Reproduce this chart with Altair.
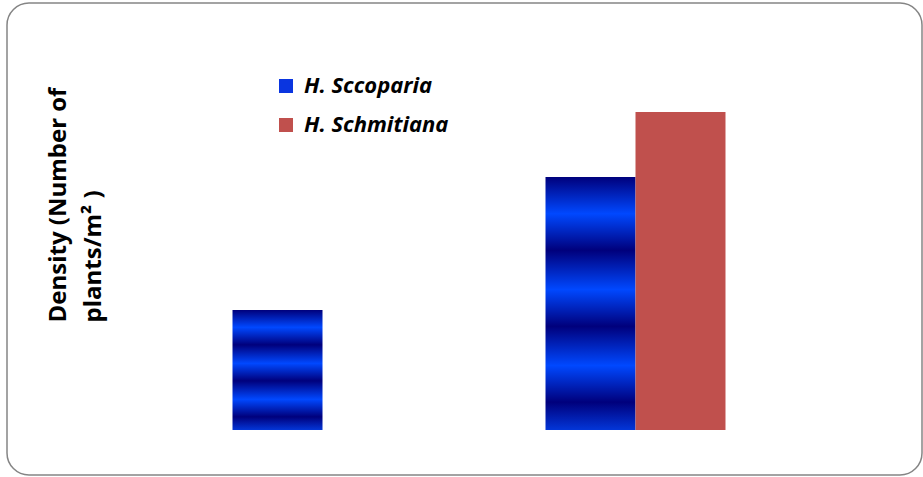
import altair as alt
import pandas as pd

# Plant density per site for the two Halocnemum species
sites = ["Site 1", "Site 2"]
species = ["H. Sccoparia", "H. Schmitiana"]
sccoparia = [1.20, 2.53]
schmitiana = [0.0, 3.18]

rows = []
for i, s in enumerate(sites):
    rows.append({"site": s, "species": species[0], "density": sccoparia[i]})
    rows.append({"site": s, "species": species[1], "density": schmitiana[i]})
df = pd.DataFrame(rows)

# Horizontal navy/bright-blue banding used for H. Sccoparia bars
NAVY = "#00007c"
BRIGHT = "#0048ff"
band_stops = [
    (0.0, NAVY), (0.145, BRIGHT), (0.29, NAVY), (0.445, BRIGHT),
    (0.59, NAVY), (0.745, BRIGHT), (0.89, NAVY), (1.0, "#0336d8"),
]
stripes = alt.LinearGradient(
    gradient="linear",
    stops=[alt.GradientStop(offset=o, color=c) for o, c in band_stops],
    x1=0, x2=0, y1=0, y2=1,
)

FONT = "Open Sans"

base = alt.Chart(df).encode(
    x=alt.X("site:N", scale=alt.Scale(range=[159, 785], paddingInner=0, paddingOuter=0), axis=None),
    xOffset=alt.XOffset("species:N", scale=alt.Scale(domain=species, paddingInner=0, paddingOuter=0.739)),
    y=alt.Y(
        "density:Q",
        scale=alt.Scale(domain=[0, 4], range=[427, 27]),
        axis=alt.Axis(
            title=["Density (Number of", "plants/m² )"],
            domain=False, ticks=False, labels=False, grid=False,
            titleFont=FONT, titleFontSize=24, titleFontWeight="bold", titleColor="black",
            titleAngle=270, titleAlign="left", titleBaseline="alphabetic",
            titleX=58, titleY=319, titleLineHeight=35,
        ),
    ),
)

blue = base.transform_filter(alt.datum.species == species[0]).mark_bar(fill=stripes)

red = base.transform_filter(alt.datum.species == species[1]).mark_bar().encode(
    color=alt.Color(
        "species:N",
        scale=alt.Scale(domain=species, range=["#0a35e0", "#C0504D"]),
        legend=alt.Legend(
            title=None, orient="none", legendX=268, legendY=72,
            symbolType="square", symbolSize=196, symbolStrokeWidth=0, symbolOpacity=1,
            labelFont=FONT, labelFontSize=22, labelFontWeight="bold", labelFontStyle="italic",
            labelColor="black", labelOffset=7, rowPadding=17, padding=0,
        ),
    )
)

chart = (
    alt.layer(blue, red)
    .properties(
        width=915, height=472,
        autosize=alt.AutoSizeParams(type="none"),
        padding={"left": 7, "top": 3, "right": 1, "bottom": 2},
        background="white",
    )
    .configure_view(stroke="#858585", strokeWidth=1.5, cornerRadius=22, fill="white")
)

chart.save("out.html", embed_options={"renderer": "svg", "actions": False})
